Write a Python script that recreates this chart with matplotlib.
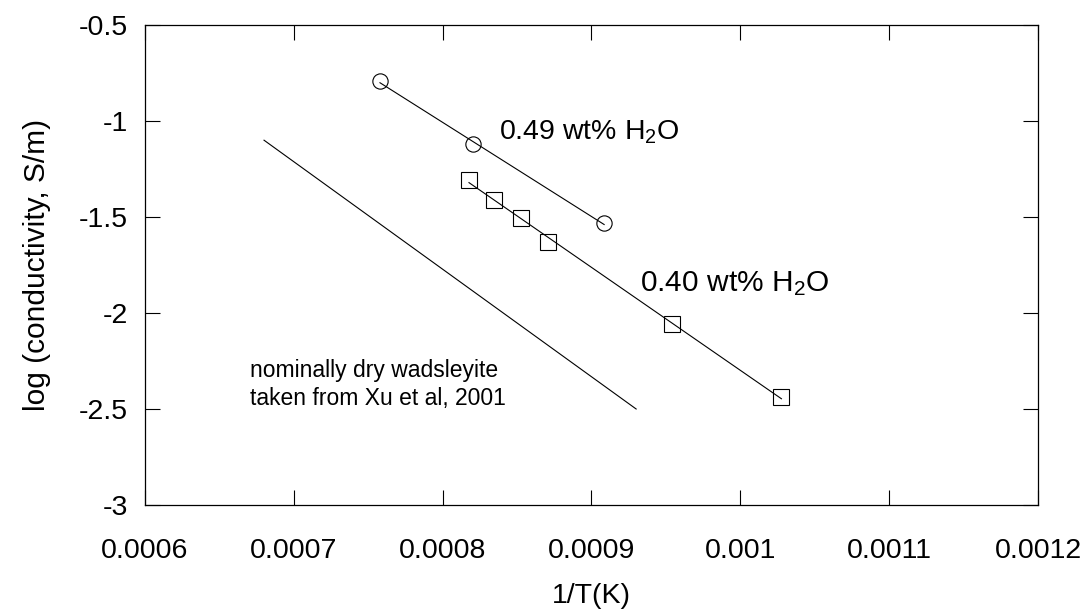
import numpy as np
import matplotlib
matplotlib.use("Agg")
import matplotlib.pyplot as plt

plt.rcParams["font.family"] = ["Liberation Sans", "DejaVu Sans"]
plt.rcParams["mathtext.fontset"] = "custom"
plt.rcParams["mathtext.rm"] = "Liberation Sans"
plt.rcParams["mathtext.it"] = "Liberation Sans"

# 0.49 wt% H2O sample
inv_t_049 = [0.0007579, 0.0008202, 0.0009085]
logc_049 = [-0.792, -1.121, -1.533]

# 0.40 wt% H2O sample
inv_t_040 = [0.0008177, 0.0008347, 0.0008525, 0.0008710, 0.0009542, 0.0010276]
logc_040 = [-1.307, -1.411, -1.504, -1.629, -2.057, -2.439]

# nominally dry wadsleyite (Xu et al, 2001)
inv_t_dry = [0.00068, 0.00093]
logc_dry = [-1.10, -2.50]

x_ticks = [0.0006, 0.0007, 0.0008, 0.0009, 0.001, 0.0011, 0.0012]
x_tick_labels = ["0.0006", "0.0007", "0.0008", "0.0009", "0.001", "0.0011", "0.0012"]
y_ticks = [-3, -2.5, -2, -1.5, -1, -0.5]
y_tick_labels = ["-3", "-2.5", "-2", "-1.5", "-1", "-0.5"]

fig = plt.figure(figsize=(10.85, 6.13), dpi=100)
ax = fig.add_axes([0.1336, 0.1762, 0.8231, 0.7830])

lw = 0.8


def fit_line(x, y):
    k, b = np.polyfit(x, y, 1)
    xs = np.array([min(x), max(x)])
    return xs, k * xs + b


xs, ys = fit_line(inv_t_049, logc_049)
ax.plot(xs, ys, color="black", lw=lw)
ax.plot(inv_t_049, logc_049, linestyle="none", marker="o", ms=11,
        mfc="none", mec="black", mew=lw)

xs, ys = fit_line(inv_t_040, logc_040)
ax.plot(xs, ys, color="black", lw=lw)
ax.plot(inv_t_040, logc_040, linestyle="none", marker="s", ms=11,
        mfc="none", mec="black", mew=lw)

ax.plot(inv_t_dry, logc_dry, color="black", lw=lw)

ax.text(0.0008379, -1.094, r"0.49 wt% H$_2$O", fontsize=20.5, ha="left", va="baseline")
ax.text(0.0009327, -1.889, r"0.40 wt% H$_2$O", fontsize=21.5, ha="left", va="baseline")
ax.text(0.0006706, -2.333, "nominally dry wadsleyite", fontsize=16.5, ha="left", va="baseline")
ax.text(0.0006706, -2.479, "taken from Xu et al, 2001", fontsize=16.5, ha="left", va="baseline")

ax.set_xlim(0.0006, 0.0012)
ax.set_ylim(-3, -0.5)
ax.set_xticks(x_ticks)
ax.set_xticklabels(x_tick_labels)
ax.set_yticks(y_ticks)
ax.set_yticklabels(y_tick_labels)

ax.tick_params(axis="both", which="major", direction="in", length=10.5, width=0.8,
               top=True, right=True, labelsize=20.5)
ax.tick_params(axis="x", pad=24)
ax.tick_params(axis="y", pad=12)

for sp in ax.spines.values():
    sp.set_linewidth(0.9)

ax.set_xlabel("1/T(K)", fontsize=20.5)
ax.set_ylabel("log (conductivity, S/m)", fontsize=21.5)
ax.xaxis.set_label_coords(0.5, -0.19)
ax.yaxis.set_label_coords(-0.121, 0.5)
ax.xaxis.label.set_va("center")
ax.yaxis.label.set_va("center")

fig.savefig("out.png", dpi=100, facecolor="white")
